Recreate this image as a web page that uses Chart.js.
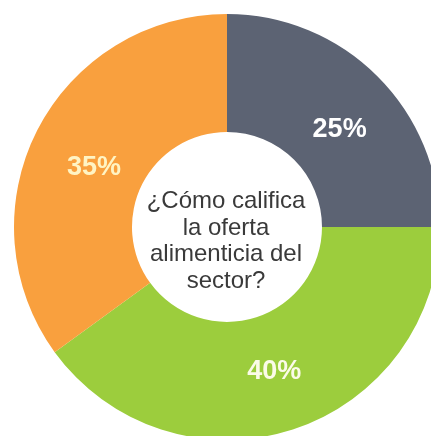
<!DOCTYPE html>
<html>
<head>
<meta charset="utf-8">
<script src="https://cdn.jsdelivr.net/npm/chart.js@4"></script>
<style>
  html, body { margin: 0; padding: 0; background: #fff; overflow: hidden; }
  #wrap { position: absolute; left: 0; top: 0; width: 454px; height: 454px; }
</style>
</head>
<body>
<div id="wrap"><canvas id="donutOferta" width="454" height="454"></canvas></div>
<script>
const categories = ["Regular", "Buena", "Mala"];
const values = [25, 40, 35];
const sliceColors = ["#5c6373", "#9ccd3d", "#f9a03e"];
const labelColors = ["#ffffff", "#fbfbe8", "#fff4c4"];
const centerLines = ["¿Cómo califica", "la oferta", "alimenticia del", "sector?"];

const ctx = document.getElementById("donutOferta");

// percentages written on each slice
const sliceLabels = {
    id: "sliceLabels",
    afterDatasetsDraw(chart, args, opts) {
        const c = chart.ctx;
        const meta = chart.getDatasetMeta(0);
        const total = values.reduce((a, b) => a + b, 0);
        c.save();
        c.font = "bold 27px 'Liberation Sans', Arial, sans-serif";
        c.textAlign = "center";
        c.textBaseline = "middle";
        meta.data.forEach((arc, i) => {
            const p = arc.tooltipPosition();
            const dx = p.x - arc.x, dy = p.y - arc.y;
            const k = 0.97;
            const n = opts.nudge[i];
            c.fillStyle = labelColors[i];
            c.fillText(Math.round(values[i] / total * 100) + "%",
                arc.x + dx * k + n[0], arc.y + dy * k + 1 + n[1]);
        });
        c.restore();
    }
};

// question in the hole of the doughnut
const centerText = {
    id: "centerText",
    afterDraw(chart) {
        const c = chart.ctx;
        const arc = chart.getDatasetMeta(0).data[0];
        c.save();
        c.font = "24px 'Liberation Sans', Arial, sans-serif";
        c.fillStyle = "#3a3a3a";
        c.textAlign = "center";
        c.textBaseline = "alphabetic";
        const lh = 26.7;
        const top = arc.y - 19;
        centerLines.forEach((line, i) => {
            c.fillText(line, arc.x - 1, top + i * lh);
        });
        c.restore();
    }
};

new Chart(ctx, {
    type: "doughnut",
    data: {
        labels: categories,
        datasets: [{
            data: values,
            backgroundColor: sliceColors,
            borderWidth: 0
        }]
    },
    options: {
        responsive: false,
        animation: false,
        cutout: "44.6%",
        layout: { padding: 14 },
        plugins: {
            legend: { display: false },
            tooltip: { enabled: false },
            sliceLabels: { nudge: [[7, 7], [1, 1], [0, 7]] }
        }
    },
    plugins: [sliceLabels, centerText]
});
</script>
</body>
</html>
